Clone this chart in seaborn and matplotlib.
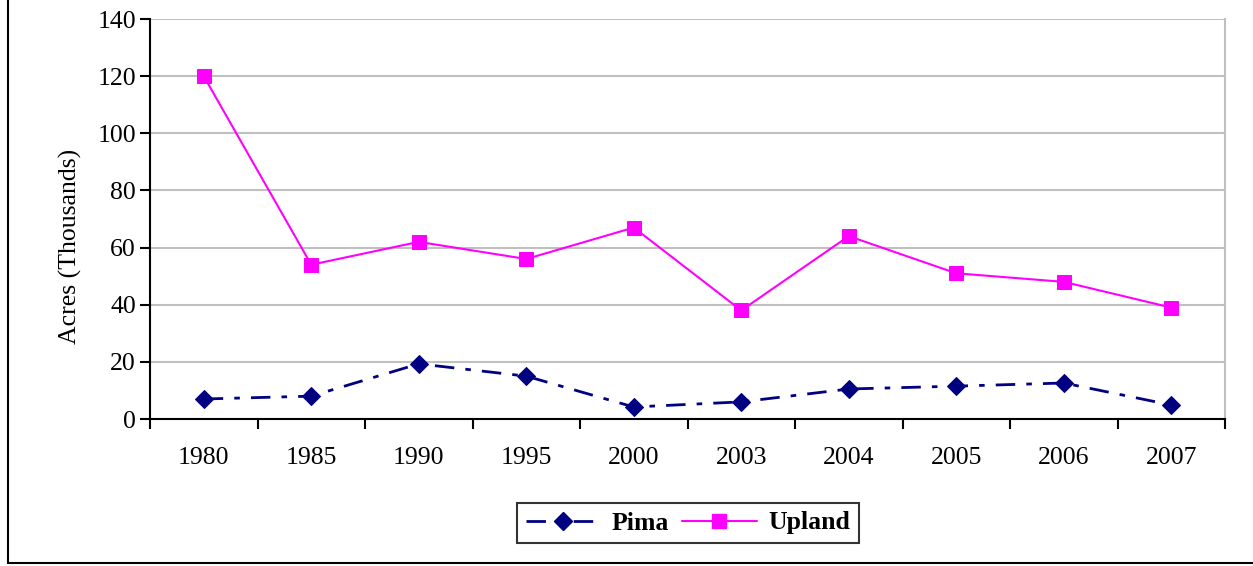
import matplotlib
matplotlib.use("Agg")
import matplotlib.pyplot as plt
import seaborn as sns
import pandas as pd
import numpy as np
from matplotlib.lines import Line2D

years = ["1980", "1985", "1990", "1995", "2000", "2003", "2004", "2005", "2006", "2007"]
pima = [7, 8, 19.3, 15, 4.2, 6, 10.5, 11.5, 12.6, 4.9]
upland = [120, 54, 62, 56, 67, 38, 64, 51, 48, 39]
yticks = [0, 20, 40, 60, 80, 100, 120, 140]

sns.set_theme(style="white")
plt.rcParams['font.family'] = ['Liberation Serif', 'DejaVu Serif']
plt.rcParams['text.color'] = 'black'
plt.rcParams['axes.labelcolor'] = 'black'
plt.rcParams['xtick.color'] = 'black'
plt.rcParams['ytick.color'] = 'black'

FS = 18.5

fig = plt.figure(figsize=(12.53, 5.66), dpi=100)
ax = fig.add_axes([150/1253, 1-419/566, (1225-150)/1253, (419-19)/566])

df = pd.DataFrame({"Year": years, "Pima": pima, "Upland": upland})
df["pos"] = np.arange(len(years))

sns.lineplot(data=df, x="pos", y="Pima", ax=ax, color="#000080", marker="D",
             markersize=9, markeredgecolor="#000080", linewidth=2,
             label="Pima", legend=False)
ax.lines[-1].set_dashes([7, 4, 2, 4])
sns.lineplot(data=df, x="pos", y="Upland", ax=ax, color="#FF00FF", marker="s",
             markersize=10, markeredgecolor="#FF00FF", linewidth=1.5,
             label="Upland", legend=False)

ax.set_xlim(-0.5, len(years) - 0.5)
ax.set_ylim(0, 140)
ax.set_yticks(yticks)
ax.set_yticklabels([str(v) for v in yticks], fontsize=FS)
ax.set_xticks(np.arange(-0.5, len(years), 1.0))
ax.set_xticklabels([])
ax.set_xticks(np.arange(len(years)), minor=True)
ax.set_xticklabels(years, minor=True, fontsize=FS)
ax.tick_params(axis="x", which="major", length=7, width=1.5, direction="out", color="black", bottom=True)
ax.tick_params(axis="x", which="minor", length=0, pad=20)
ax.tick_params(axis="y", length=7, width=1.5, direction="out", color="black", left=True, pad=3)
ax.set_xlabel("")
ax.set_ylabel("Acres (Thousands)", fontsize=FS)
ax.yaxis.set_label_coords(-0.0632, 0.4325)

ax.grid(axis="y", color="#C0C0C0", linewidth=1.5)
ax.set_axisbelow(True)
for s in ["left", "bottom"]:
    ax.spines[s].set_color("black")
    ax.spines[s].set_linewidth(1.5)
ax.spines["top"].set_visible(False)
ax.spines["right"].set_color("#C0C0C0")
ax.spines["right"].set_linewidth(1.5)

handles = [
    Line2D([], [], color="#000080", marker="D", markersize=9, linewidth=2, dashes=[7, 4, 2, 4]),
    Line2D([], [], color="#FF00FF", marker="s", markersize=10, linewidth=1.5),
]
leg = fig.legend(handles, ["Pima", "Upland"], loc="center", bbox_to_anchor=(688/1253, 1-523/566),
                 ncol=2, frameon=True, fancybox=False, edgecolor="black",
                 prop={"weight": "bold", "size": FS}, handlelength=2.9, columnspacing=0.5,
                 handletextpad=0.45, borderpad=0.35, borderaxespad=0)
leg.get_frame().set_linewidth(1.5)

# outer frame lines (left and bottom visible in reference)
fig.add_artist(Line2D([8/1253, 8/1253], [3/566, 1], color="black", linewidth=1.5, transform=fig.transFigure))
fig.add_artist(Line2D([8/1253, 1], [3/566, 3/566], color="black", linewidth=1.5, transform=fig.transFigure))

fig.savefig("out.png", dpi=100)
